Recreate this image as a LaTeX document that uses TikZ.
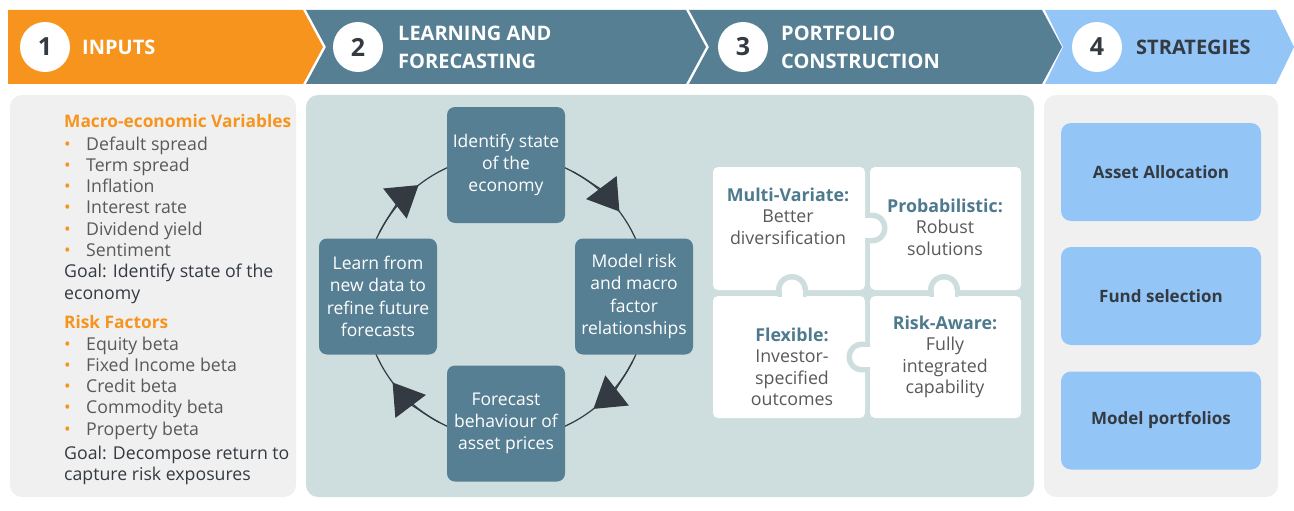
\documentclass[tikz,border=0pt]{standalone}
\usepackage{fontspec}
\setmainfont{Open Sans}
\usetikzlibrary{arrows.meta,calc}
\definecolor{orng}{RGB}{247,148,30}
\definecolor{slate}{RGB}{87,127,147}
\definecolor{lblue}{RGB}{148,197,247}
\definecolor{pgray}{RGB}{240,240,240}
\definecolor{pteal}{RGB}{206,221,221}
\definecolor{dtext}{RGB}{52,58,66}
\definecolor{gtext}{RGB}{89,89,89}
\definecolor{tealtxt}{RGB}{78,122,142}
\tikzset{
  numcirc/.style={circle,fill=white,minimum size=50pt,inner sep=0pt,text=dtext,font=\fontsize{25}{26}\selectfont\bfseries},
  headtxt/.style={anchor=west,align=left,inner sep=0pt,font=\fontsize{20}{28}\selectfont\bfseries},
  cycbox/.style={rectangle,rounded corners=8pt,fill=slate,minimum width=118pt,minimum height=116pt,text=white,align=center,inner sep=0pt,font=\fontsize{17.5}{22.3}\selectfont},
  cycline/.style={draw=dtext,line width=1.2pt},
  cyctip/.style={cycline,-{Triangle[length=30pt,width=38pt]}},
  piece/.style={rectangle,rounded corners=5pt,fill=white,inner sep=0pt},
  ptxt/.style={align=center,inner sep=0pt,text=gtext,font=\fontsize{17.8}{21.5}\selectfont},
  stratbox/.style={rectangle,rounded corners=10pt,fill=lblue,minimum width=200pt,minimum height=98pt,text=dtext,font=\fontsize{17}{20}\selectfont\bfseries},
  listtxt/.style={anchor=base west,inner sep=0pt,text=gtext,font=\fontsize{17.7}{20}\selectfont},
  goaltxt/.style={anchor=base west,inner sep=0pt,text=dtext,font=\fontsize{17.7}{20}\selectfont},
  listhead/.style={anchor=base west,inner sep=0pt,text=orng,font=\fontsize{17.3}{20}\selectfont\bfseries},
}
\begin{document}
\begin{tikzpicture}[x=1pt,y=-1pt]
\useasboundingbox (0,0) rectangle (1294,511);
% chevrons
\fill[orng] (8,10) -- (303,10) -- (323,47) -- (303,84) -- (8,84) -- cycle;
\fill[slate] (306,10) -- (686,10) -- (706,47) -- (686,84) -- (306,84) -- (326,47) -- cycle;
\fill[slate] (689,10) -- (1042,10) -- (1062,47) -- (1042,84) -- (689,84) -- (709,47) -- cycle;
\fill[lblue] (1045,10) -- (1276,10) -- (1294,47) -- (1276,84) -- (1045,84) -- (1063,47) -- cycle;
\node[numcirc] (n1) at (45,47) {1};
\node[numcirc] (n2) at (358,47) {2};
\node[numcirc] (n3) at (743,47) {3};
\node[numcirc] (n4) at (1097,47) {4};
\node[headtxt,text=white] (h1) at (82,47) {INPUTS};
\node[headtxt,text=white] (h2) at (398,47) {LEARNING AND\\FORECASTING};
\node[headtxt,text=white] (h3) at (781,47) {PORTFOLIO\\CONSTRUCTION};
\node[headtxt,text=dtext] (h4) at (1136,47) {STRATEGIES};
% panels
\fill[pgray,rounded corners=12pt] (10,95) rectangle (296,497);
\fill[pteal,rounded corners=12pt] (306,95) rectangle (1034,497);
\fill[pgray,rounded corners=12pt] (1044,95) rectangle (1278,497);
% inputs list
\node[listhead] (mh) at (64,128) {Macro-economic Variables};
\foreach \ly/\lt [count=\i] in {150/Default spread,171/Term spread,192/Inflation,213/Interest rate,235/Dividend yield,256/Sentiment}{
  \node[listtxt,text=orng] (mb\i) at (64,\ly) {•};
  \node[listtxt] (mi\i) at (86,\ly) {\lt};
}
\node[goaltxt] (g1a) at (64,277) {Goal: Identify state of the};
\node[goaltxt] (g1b) at (64,299) {economy};
\node[listhead] (rh) at (64,328) {Risk Factors};
\foreach \ly/\lt [count=\i] in {350/Equity beta,371/Fixed Income beta,392/Credit beta,413/Commodity beta,435/Property beta}{
  \node[listtxt,text=orng] (rb\i) at (64,\ly) {•};
  \node[listtxt] (ri\i) at (86,\ly) {\lt};
}
\node[goaltxt] (g2a) at (64,459) {Goal: Decompose return to};
\node[goaltxt] (g2b) at (64,480) {capture risk exposures};
% cycle
\coordinate (c) at (506,297);
\draw[cycline] (c) circle[radius=142];
\draw[cyctip] ($(c)+(-62:142)$) arc[start angle=-62,end angle=-37,radius=142];
\draw[cyctip] ($(c)+(27:142)$) arc[start angle=27,end angle=52,radius=142];
\draw[cyctip] ($(c)+(118:142)$) arc[start angle=118,end angle=143,radius=142];
\draw[cyctip] ($(c)+(207:142)$) arc[start angle=207,end angle=232,radius=142];
\node[cycbox] (ctop) at (506,165) {Identify state\\of the\\economy};
\node[cycbox] (cright) at (634,296.5) {Model risk\\and macro\\factor\\relationships};
\node[cycbox] (cbot) at (506,423.5) {Forecast\\behaviour of\\asset prices};
\node[cycbox] (cleft) at (378,296.5) {Learn from\\new data to\\refine future\\forecasts};
% puzzle
\node[piece,minimum width=152pt,minimum height=123pt] (pTL) at (789,228.5) {};
\node[piece,minimum width=151pt,minimum height=123pt] (pTR) at (945.5,228.5) {};
\node[piece,minimum width=152pt,minimum height=122pt] (pBL) at (789,357) {};
\node[piece,minimum width=151pt,minimum height=122pt] (pBR) at (945.5,357) {};
% tab TL -> TR
\begin{scope}\clip (865,200) rectangle (900,260); \fill[pteal] (872,228) circle[radius=15.5]; \end{scope}
\fill[white] (872,228) circle[radius=10];
\fill[white] (860,218) rectangle (872,238);
% tab BL -> TL
\begin{scope}\clip (770,260) rectangle (815,296); \fill[pteal] (792,290) circle[radius=16]; \end{scope}
\fill[white] (792,290) circle[radius=10.5];
\fill[white] (781.5,290) rectangle (802.5,300);
% tab BR -> TR
\begin{scope}\clip (920,260) rectangle (970,296); \fill[pteal] (944,290) circle[radius=16]; \end{scope}
\fill[white] (944,290) circle[radius=10.5];
\fill[white] (933.5,290) rectangle (954.5,300);
% tab BR -> BL
\begin{scope}\clip (835,330) rectangle (870,385); \fill[pteal] (862,357) circle[radius=15.5]; \end{scope}
\fill[white] (862,357) circle[radius=10];
\fill[white] (862,347) rectangle (875,367);
\node[ptxt] (tTL) at (788,216) {\textcolor{tealtxt}{\bfseries Multi-Variate:}\\Better\\diversification};
\node[ptxt] (tTR) at (945,227) {\textcolor{tealtxt}{\bfseries Probabilistic:}\\Robust\\solutions};
\node[ptxt] (tBL) at (792,367) {\textcolor{tealtxt}{\bfseries Flexible:}\\Investor-\\specified\\outcomes};
\node[ptxt] (tBR) at (945,357) {\textcolor{tealtxt}{\bfseries Risk-Aware:}\\Fully\\integrated\\capability};
% strategies
\node[stratbox] (s1) at (1161,172) {Asset Allocation};
\node[stratbox] (s2) at (1161,296) {Fund selection};
\node[stratbox] (s3) at (1161,420.5) {Model portfolios};
\end{tikzpicture}
\end{document}
